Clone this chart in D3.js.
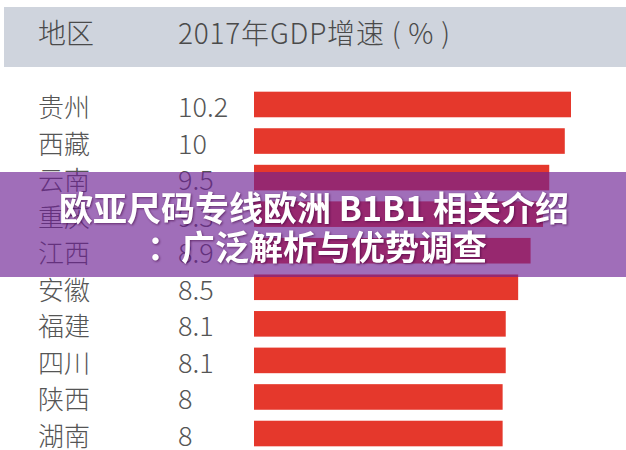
<!DOCTYPE html>
<html><head><meta charset="utf-8">
<script src="https://cdn.jsdelivr.net/npm/d3@7"></script>
<style>
html,body{margin:0;padding:0;background:#fff;}
svg{display:block;}
</style></head>
<body>
<script>
const regions = ["贵州","西藏","云南","重庆","江西","安徽","福建","四川","陕西","湖南"];
const growth = [10.2,10,9.5,9.3,8.9,8.5,8.1,8.1,8,8];
const valueLabels = ["10.2","10","9.5","9.3","8.9","8.5","8.1","8.1","8","8"];
const headerLabels = ["地区","2017年GDP增速 ( % )"];
const bannerLines = ["欧亚尺码专线欧洲 B1B1 相关介绍","：广泛解析与优势调查"];

const W = 626, H = 450;
const svg = d3.select("body").append("svg").attr("width", W).attr("height", H);
const cjk = "'Noto Sans CJK SC','Noto Sans',sans-serif";

// header band
svg.append("rect").attr("x",4).attr("y",7).attr("width",W-4).attr("height",60).attr("fill","#cfd4dd");
svg.append("text").attr("x",38).attr("y",32).attr("dominant-baseline","central")
  .attr("font-family",cjk).attr("font-size",28).attr("font-weight",300).attr("fill","#4a4a4a").text(headerLabels[0]);
svg.append("text").attr("x",178).attr("y",32).attr("dominant-baseline","central")
  .attr("font-family",cjk).attr("font-size",28).attr("font-weight",300).attr("fill","#4a4a4a")
  .attr("textLength",272).attr("lengthAdjust","spacing").text(headerLabels[1]);

const y = d3.scaleBand().domain(regions).range([86.2, 451.8]).paddingInner(0.3).paddingOuter(0.15);
const x = d3.scaleLinear().domain([0, 10.2]).range([254, 571]);

const rows = svg.append("g").selectAll("g").data(regions).join("g");
rows.append("rect")
  .attr("x", x(0))
  .attr("y", d => y(d))
  .attr("width", (d,i) => x(growth[i]) - x(0))
  .attr("height", y.bandwidth())
  .attr("fill", "#e5382c");
rows.append("text")
  .attr("x", 38).attr("y", d => y(d) + y.bandwidth()/2 + 1)
  .attr("dominant-baseline","central")
  .attr("font-family",cjk).attr("font-size",26).attr("font-weight",300).attr("fill","#555")
  .text(d => d);
rows.append("text")
  .attr("x", 178).attr("y", d => y(d) + y.bandwidth()/2 + 1)
  .attr("dominant-baseline","central")
  .attr("font-family",cjk).attr("font-size",27).attr("font-weight",300).attr("fill","#555")
  .text((d,i) => valueLabels[i]);

// overlay banner
svg.append("rect").attr("x",0).attr("y",172).attr("width",W).attr("height",105)
  .attr("fill","rgb(109,32,148)").attr("fill-opacity",0.65);
const bt = svg.append("g").attr("font-family",cjk).attr("font-weight",700).attr("font-size",34)
  .attr("fill","#fff").attr("text-anchor","middle")
  .style("filter","drop-shadow(1px 1px 1px rgba(60,0,60,0.6))");
bannerLines.forEach((t,i) => {
  bt.append("text").attr("x", i===0 ? 314 : 317).attr("y", 206 + i*39).attr("dominant-baseline","central").text(t);
});
</script>
</body></html>
